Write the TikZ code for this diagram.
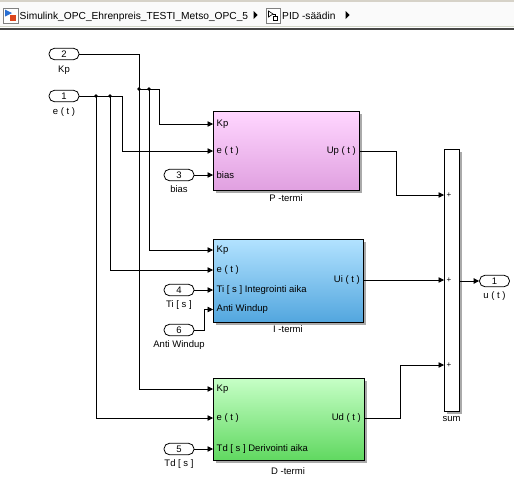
\documentclass[tikz,border=0pt]{standalone}
\usepackage{fontspec}
\setmainfont{Liberation Sans}
\usetikzlibrary{arrows.meta}
\definecolor{hdrtop}{RGB}{214,210,200}
\definecolor{hdrline}{RGB}{210,214,200}
\definecolor{hdrdark}{RGB}{70,70,70}
\definecolor{hdrbg}{RGB}{250,250,250}
\definecolor{ptop}{RGB}{255,214,255}
\definecolor{pbot}{RGB}{224,160,224}
\definecolor{itop}{RGB}{178,226,255}
\definecolor{ibot}{RGB}{82,166,222}
\definecolor{dtop}{RGB}{198,255,198}
\definecolor{dbot}{RGB}{96,216,96}
\definecolor{shadowc}{RGB}{170,170,170}
\definecolor{iconblue}{RGB}{40,110,210}
\definecolor{iconred}{RGB}{220,70,30}
\begin{document}
\begin{tikzpicture}[x=1pt,y=-1pt,
  wire/.style={line width=0.8pt},
  arr/.style={line width=0.8pt,-{Triangle[length=5.5pt,width=5.5pt]}},
  inport/.style={draw,line width=0.8pt,rounded corners=5.5pt,minimum width=30pt,minimum height=11.5pt,inner sep=0pt,fill=white,font=\fontsize{9.5}{10}\selectfont},
  plab/.style={font=\fontsize{9.5}{10}\selectfont,inner sep=0pt},
  blk/.style={draw,line width=0.8pt,anchor=north west,inner sep=0pt},
  jdot/.style={circle,fill,inner sep=0pt,minimum size=3.6pt},
  hdr/.style={font=\fontsize{10.2}{12}\selectfont,inner sep=0pt}
]
\useasboundingbox (0,0) rectangle (514,485);
\fill[white] (0,0) rectangle (514,485);
% header
\fill[hdrbg] (0,0) rectangle (514,27);
\fill[hdrtop] (0,0) rectangle (514,1.5);
\draw[hdrline,line width=1pt] (0,26) -- (514,26);
\fill[hdrdark] (0,27.5) rectangle (514,29.5);
% icon 1
\draw[gray,fill=white] (3,8) rectangle (18,23);
\fill[iconblue] (5,9.5) -- (12,13) -- (5,16.5) -- cycle;
\fill[iconred] (10,14.5) rectangle (16,21);
\node[hdr,anchor=base west] (crumbA) at (19.5,19) {Simulink\_OPC\_Ehrenpreis\_TESTI\_Metso\_OPC\_5};
\fill (253.5,11) -- (257.5,15) -- (253.5,19) -- cycle;
% icon 2
\draw[gray,fill=white] (266,8.5) rectangle (280,23.5);
\draw[line width=0.6pt] (268.5,11) -- (273,14) -- (268.5,17) -- cycle;
\draw[line width=0.6pt] (273,14) -- (275,14) -- (275,16.5);
\draw[line width=0.6pt] (273.5,16.5) rectangle (277.5,20.5);
\node[hdr,anchor=base west] (crumbB) at (282,19) {PID -säädin};
\fill (345.5,11) -- (349.5,15) -- (345.5,19) -- cycle;

% shadows
\fill[shadowc] (216,114) rectangle (362,193);
\fill[shadowc] (216,242) rectangle (366,325);
\fill[shadowc] (216,381) rectangle (367,463);
\fill[shadowc] (446.5,151.5) rectangle (461.5,413.5);

% blocks
\node[blk,minimum width=146pt,minimum height=79pt,top color=ptop,bottom color=pbot] (P) at (213,111) {};
\node[blk,minimum width=150pt,minimum height=83pt,top color=itop,bottom color=ibot] (I) at (213,239) {};
\node[blk,minimum width=151pt,minimum height=82pt,top color=dtop,bottom color=dbot] (D) at (213,378) {};
\node[blk,minimum width=15pt,minimum height=262pt,fill=white] (S) at (444,149) {};

% block port labels
\node[plab,anchor=west] (PlKp) at (216.5,124) {Kp};
\node[plab,anchor=west] (Ple) at (216.5,151) {e ( t )};
\node[plab,anchor=west] (Plb) at (216.5,175) {bias};
\node[plab,anchor=east] (Plu) at (356,151) {Up ( t )};
\node[plab] (Pname) at (286,198) {P -termi};

\node[plab,anchor=west] (IlKp) at (216.5,250) {Kp};
\node[plab,anchor=west] (Ile) at (216.5,270) {e ( t )};
\node[plab,anchor=west] (IlTi) at (216.5,290) {Ti [ s ] Integrointi aika};
\node[plab,anchor=west] (IlAW) at (216.5,309.5) {Anti Windup};
\node[plab,anchor=east] (Ilu) at (360,280) {Ui ( t )};
\node[plab] (Iname) at (288,329) {I -termi};

\node[plab,anchor=west] (DlKp) at (216.5,389) {Kp};
\node[plab,anchor=west] (Dle) at (216.5,418) {e ( t )};
\node[plab,anchor=west] (DlTd) at (216.5,449) {Td [ s ] Derivointi aika};
\node[plab,anchor=east] (Dlu) at (361,418) {Ud ( t )};
\node[plab] (Dname) at (288,471) {D -termi};

\node[plab,font=\fontsize{8}{8}\selectfont] (Sp1) at (449,195) {+};
\node[plab,font=\fontsize{8}{8}\selectfont] (Sp2) at (449,280) {+};
\node[plab,font=\fontsize{8}{8}\selectfont] (Sp3) at (449,365) {+};
\node[plab] (Sname) at (451.5,419) {sum};

% inports / outport
\node[inport] (in2) at (64,54) {2};
\node[plab] (in2l) at (64,70.5) {Kp};
\node[inport] (in1) at (64,96) {1};
\node[plab] (in1l) at (64,112) {e ( t )};
\node[inport] (in3) at (179,175) {3};
\node[plab] (in3l) at (179,189) {bias};
\node[inport] (in4) at (179,290) {4};
\node[plab] (in4l) at (179,305.5) {Ti [ s ]};
\node[inport] (in6) at (179,330) {6};
\node[plab] (in6l) at (179,345) {Anti Windup};
\node[inport] (in5) at (179,449) {5};
\node[plab] (in5l) at (179,464) {Td [ s ]};
\node[inport] (out1) at (494.5,281) {1};
\node[plab] (out1l) at (494.5,296.5) {u ( t )};

% coordinates
\coordinate (jK1) at (139,89);
\coordinate (jK2) at (149,89);
\coordinate (kc) at (159,89);
\coordinate (je1) at (96,96);
\coordinate (je2) at (110,96);
\coordinate (ec) at (122,96);
\coordinate (PKp) at (213,124);
\coordinate (Pe) at (213,151);
\coordinate (Pb) at (213,175);
\coordinate (IKp) at (213,250);
\coordinate (Ie) at (213,270);
\coordinate (ITi) at (213,290);
\coordinate (IAW) at (213,309.5);
\coordinate (awc) at (204,330);
\coordinate (DKp) at (213,389);
\coordinate (De) at (213,418);
\coordinate (DTd) at (213,449);
\coordinate (Pup) at (359,151);
\coordinate (upc) at (396,151);
\coordinate (Iui) at (363,280);
\coordinate (Dud) at (364,418);
\coordinate (udc) at (400,418);
\coordinate (S1) at (444,195);
\coordinate (S2) at (444,280);
\coordinate (S3) at (444,365);
\coordinate (So) at (459,281);

% wires
\draw[wire] (in2.east) -| (jK1);
\draw[arr] (jK1) |- (DKp);
\draw[wire] (jK1) -- (jK2);
\draw[arr] (jK2) |- (IKp);
\draw[arr] (jK2) -- (kc) |- (PKp);
\node[jdot] (dK1) at (jK1) {};
\node[jdot] (dK2) at (jK2) {};

\draw[arr] (in1.east) -- (ec) |- (Pe);
\draw[arr] (je1) |- (De);
\draw[arr] (je2) |- (Ie);
\node[jdot] (de1) at (je1) {};
\node[jdot] (de2) at (je2) {};

\draw[arr] (in3.east) -- (Pb);
\draw[arr] (in4.east) -- (ITi);
\draw[arr] (in6.east) -- (awc) |- (IAW);
\draw[arr] (in5.east) -- (DTd);

\draw[arr] (Pup) -- (upc) |- (S1);
\draw[arr] (Iui) -- (S2);
\draw[arr] (Dud) -- (udc) |- (S3);
\draw[arr] (So) -- (out1.west);
\end{tikzpicture}
\end{document}
